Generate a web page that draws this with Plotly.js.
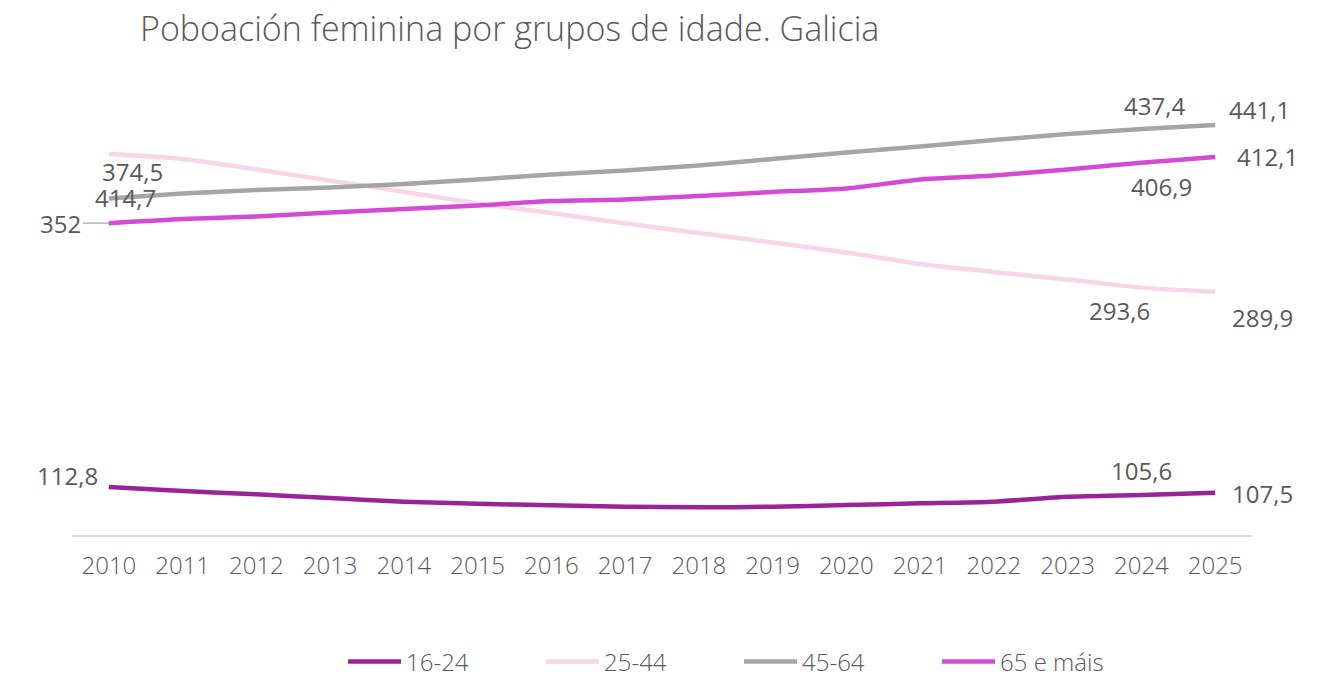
<!DOCTYPE html>
<html>
<head>
<meta charset="utf-8">
<script src="https://cdn.plot.ly/plotly-3.0.1.min.js"></script>
<style>html,body{margin:0;padding:0;background:#fff;}#chart{width:1333px;height:674px;}</style>
</head>
<body>
<div id="chart"></div>
<script>
const years = ['2010','2011','2012','2013','2014','2015','2016','2017','2018','2019','2020','2021','2022','2023','2024','2025'];
const seriesNames = ['16-24','25-44','45-64','65 e máis'];
const v1624 = [112.8,109.2,106.2,102.8,99.5,97.7,96.2,94.9,94.4,94.9,96.5,98.0,99.5,104.0,105.6,107.5];
const v2544 = [414.7,410.3,400.9,390.6,380.6,369.9,361.3,351.8,343.1,334.5,325.5,315.0,307.8,301.0,293.6,289.9];
const v4564 = [374.5,379.0,382.1,384.4,387.6,391.7,396.2,399.8,404.4,410.3,416.1,421.6,427.5,432.9,437.4,441.1];
const v65 = [352.0,355.8,358.1,361.7,364.9,368.1,372.2,373.5,376.7,380.3,383.5,391.7,395.3,400.7,406.9,412.1];
const colors = ['#9B2399','#F8D5E9','#A5A5A5','#D54AD5'];

const allValues = [v1624, v2544, v4564, v65];
const fontFam = '"Open Sans", sans-serif';
const txtColor = '#595959';
const lblSize = 24;

const traces = allValues.map((vals, i) => ({
  type: 'scatter', mode: 'lines', name: seriesNames[i],
  x: years.map((_, k) => k), y: vals,
  line: {color: colors[i], width: 4.5, shape: 'spline', smoothing: 0.6},
  hoverinfo: 'skip'
}));

const fmt = v => v.toFixed(1).replace('.', ',').replace(/,0$/, '');

const annotations = [];
function addLabel(s, k, xs, ys, textVal) {
  annotations.push({
    x: k, y: allValues[s][k], xref: 'x', yref: 'y',
    text: textVal, showarrow: false, xshift: xs, yshift: ys,
    font: {family: fontFam, size: lblSize, color: txtColor}
  });
}
addLabel(0, 0, -41, 12, fmt(v1624[0]));
addLabel(0, 14, 0, 24, fmt(v1624[14]));
addLabel(0, 15, 47, -1, fmt(v1624[15]));
addLabel(1, 14, -22, -23, fmt(v2544[14]));
addLabel(1, 15, 47, -26, fmt(v2544[15]));
addLabel(2, 14, 13, 24, fmt(v4564[14]));
addLabel(2, 15, 44, 15, fmt(v4564[15]));
addLabel(3, 14, 20, -24, fmt(v65[14]));
addLabel(3, 15, 52, 0, fmt(v65[15]));
// 2010 labels, placed as in the original (they overlap there)
addLabel(2, 0, 17, 1, fmt(v2544[0]));
annotations.push({
  x: 0, y: v2544[0], xref: 'x', yref: 'y', text: fmt(v4564[0]),
  showarrow: true, arrowhead: 0, arrowwidth: 1.2, arrowcolor: '#A5A5A5',
  ax: 24, ay: 17, standoff: 0,
  font: {family: fontFam, size: lblSize, color: txtColor}
});
annotations.push({
  x: 0, y: v65[0], xref: 'x', yref: 'y', text: fmt(v65[0]),
  showarrow: true, arrowhead: 0, arrowwidth: 1.2, arrowcolor: '#A5A5A5',
  ax: -48, ay: 0, standoff: 0,
  font: {family: fontFam, size: lblSize, color: txtColor}
});

const layout = {
  width: 1333, height: 674,
  margin: {l: 72, r: 81, t: 60, b: 139, autoexpand: false},
  paper_bgcolor: '#ffffff', plot_bgcolor: '#ffffff',
  title: {
    text: 'Poboación feminina por grupos de idade. Galicia',
    xref: 'container', yref: 'container', x: 140/1333, xanchor: 'left',
    y: 1 - 29/674, yanchor: 'middle',
    font: {family: fontFam, size: 34, color: txtColor, weight: 300}
  },
  xaxis: {
    type: 'linear', range: [-0.5, 15.5],
    tickmode: 'array', tickvals: years.map((_, k) => k), ticktext: years,
    showgrid: false, zeroline: false, showline: true, linecolor: '#D9D9D9', linewidth: 1.5,
    ticks: '', tickfont: {family: fontFam, size: 24, color: txtColor, weight: 300}, ticklabelstandoff: 9,
    fixedrange: true
  },
  yaxis: {
    range: [69.3, 500], showgrid: false, zeroline: false, showline: false,
    showticklabels: false, ticks: '', fixedrange: true
  },
  showlegend: true,
  legend: {
    orientation: 'h', x: 0.2297, xanchor: 'left', y: -0.267, yanchor: 'middle',
    font: {family: fontFam, size: 24, color: txtColor, weight: 300},
    entrywidth: 130, entrywidthmode: 'pixels', itemwidth: 53, traceorder: 'normal'
  },
  annotations: annotations
};

Plotly.newPlot('chart', traces, layout, {displayModeBar: false, staticPlot: true});
</script>
</body>
</html>
